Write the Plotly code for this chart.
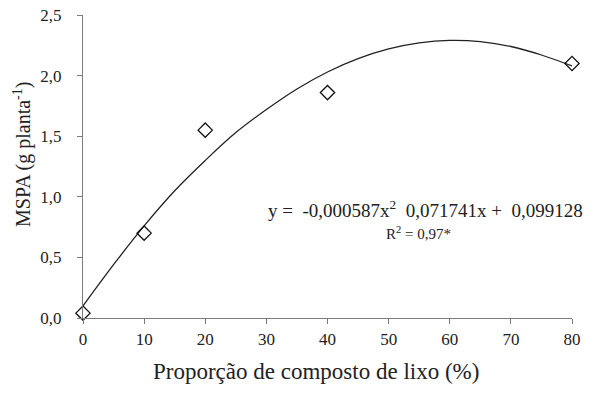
import plotly.graph_objects as go

# Observed data points
obs_x = [0, 10, 20, 40, 80]
obs_y = [0.04, 0.70, 1.55, 1.86, 2.10]

# Fitted curve values
fit_x = [0, 5, 10, 15, 20, 25, 30, 35, 40, 45, 50, 55, 60, 65, 70, 75, 80]
fit_y = [0.10, 0.44, 0.76, 1.05, 1.30, 1.53, 1.72, 1.89, 2.03, 2.14, 2.22, 2.27, 2.29, 2.28, 2.24, 2.17, 2.08]

x_ticks = [0, 10, 20, 30, 40, 50, 60, 70, 80]
y_ticks = [0.0, 0.5, 1.0, 1.5, 2.0, 2.5]
y_tick_labels = ["0,0", "0,5", "1,0", "1,5", "2,0", "2,5"]

font_family = "Liberation Serif"
txt = "#222222"
axc = "#7a7a7a"

W, H = 598, 410
L, R, T, B = 83, 26, 15, 92
pw = W - L - R
ph = H - T - B


def px_to_paper(px, py):
    return (px - L) / pw, 1 - (py - T) / ph


fig = go.Figure()
fig.add_trace(go.Scatter(x=fit_x, y=fit_y, mode="lines", line=dict(color="#222222", width=1.3),
                         line_shape="spline", showlegend=False, hoverinfo="skip"))
fig.add_trace(go.Scatter(x=obs_x, y=obs_y, mode="markers",
                         marker=dict(symbol="diamond-open", size=11, color="#111111", line=dict(width=1.3)),
                         showlegend=False, cliponaxis=False))

fig.update_layout(
    width=W, height=H,
    margin=dict(l=L, r=R, t=T, b=B, autoexpand=False),
    paper_bgcolor="white", plot_bgcolor="white",
    font=dict(family=font_family, size=16, color=txt),
    xaxis=dict(range=[0, 80], tickvals=x_ticks, ticks="outside", ticklen=5, tickcolor=axc,
               showline=True, linecolor=axc, linewidth=1, showgrid=False, zeroline=False,
               automargin=False, ticklabelstandoff=1, ticklabeloverflow="allow",
               tickfont=dict(size=17, color=txt)),
    yaxis=dict(range=[0, 2.5], tickvals=y_ticks, ticktext=y_tick_labels, ticks="outside", ticklen=5, tickcolor=axc,
               showline=True, linecolor=axc, linewidth=1, showgrid=False, zeroline=False,
               automargin=False, ticklabelstandoff=12, ticklabeloverflow="allow",
               tickfont=dict(size=17, color=txt)),
)


def note(px, py, text, size, angle=0):
    ax, ay = px_to_paper(px, py)
    fig.add_annotation(x=ax, y=ay, xref="paper", yref="paper", text=text, textangle=angle,
                       xanchor="center", yanchor="middle", showarrow=False,
                       font=dict(size=size, color=txt))


note(316, 371, "Proporção de composto de lixo (%)", 23)
note(22, 155, "MSPA (g planta<sup>-1</sup>)", 20, -90)
note(425, 209, "y =&nbsp; -0,000587x<sup>2</sup>&nbsp; 0,071741x +&nbsp; 0,099128", 19)
note(418, 233, "R<sup>2</sup> = 0,97*", 15)

fig.write_html("out.html", config={"displayModeBar": False},
               post_script="document.body.style.margin='0';document.body.style.overflow='hidden';")
